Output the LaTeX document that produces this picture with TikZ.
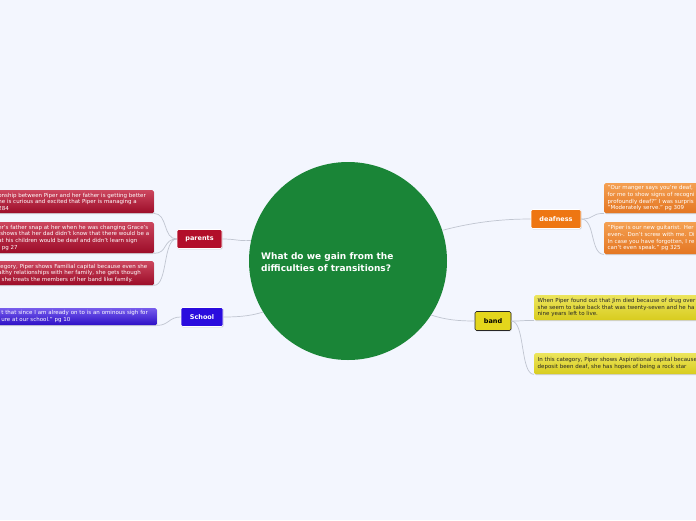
\documentclass[tikz,border=0pt]{standalone}
\usepackage{fontspec}
\setmainfont{DejaVu Sans}
\usetikzlibrary{shadows}

\definecolor{bgpage}{RGB}{243,246,254}
\definecolor{hubgreen}{RGB}{26,133,55}
\definecolor{parred}{RGB}{178,14,42}
\definecolor{parredtop}{RGB}{204,70,94}
\definecolor{parredbot}{RGB}{156,12,40}
\definecolor{schblue}{RGB}{42,12,222}
\definecolor{schbluetop}{RGB}{118,92,236}
\definecolor{schbluebot}{RGB}{44,14,198}
\definecolor{deaforange}{RGB}{238,118,18}
\definecolor{deaftop}{RGB}{244,160,82}
\definecolor{deafbot}{RGB}{228,118,34}
\definecolor{bandyellow}{RGB}{228,214,28}
\definecolor{bandtop}{RGB}{236,229,92}
\definecolor{bandbot}{RGB}{216,204,30}
\definecolor{linkgray}{RGB}{192,197,208}

\tikzset{
  softshadow/.style={drop shadow={shadow xshift=0.6pt, shadow yshift=-0.9pt, opacity=0.3}},
  branch/.style={draw=white, line width=0.6pt, rounded corners=1.5pt, softshadow,
    minimum height=19pt, inner sep=0pt, text=white,
    font=\fontsize{6.5}{8}\selectfont\bfseries},
  leaf/.style={rounded corners=1.5pt, softshadow, align=left, text width=152pt,
    inner xsep=3.5pt, inner ysep=0pt, text=white,
    font=\fontsize{5.5}{6.7}\selectfont},
  link/.style={draw=linkgray, line width=0.7pt},
}

\begin{document}
\begin{tikzpicture}[x=1pt, y=-1pt]
    % 1 unitate = 1 px din imaginea de 696 x 520
    \useasboundingbox (0,0) rectangle (696,520);
    \fill[bgpage] (0,0) rectangle (696,520);
    \clip (0,0) rectangle (696,520);

    % ===== nodul central =====
    \node[circle, fill=hubgreen, minimum size=198pt, inner sep=0pt] (hub) at (348,261) {};
    \node[anchor=west, align=left, text=white, inner sep=0pt,
          font=\fontsize{9}{12}\selectfont\bfseries] (hubtext) at (261,262)
      {What do we gain from the\\difficulties of transitions?};

    % ===== ramuri =====
    \node[branch, fill=parred, minimum width=45pt]   (parents)  at (199.5,239) {parents};
    \node[branch, fill=schblue, minimum width=42pt]  (school)   at (202,317)   {School};
    \node[branch, fill=deaforange, minimum width=50pt] (deafness) at (556,219) {deafness};
    \node[branch, fill=bandyellow, draw=black!85, text=black, minimum width=36pt] (band) at (493,321) {band};

    % ===== frunze stanga (parents, School) =====
    \node[leaf, top color=parredtop, bottom color=parredbot, minimum height=23pt,
          anchor=north east] (par1) at (154,190)
      {onship between Piper and her father is getting better\\
       ne is curious and excited that Piper is managing a\\
       284};
    \node[leaf, top color=parredtop, bottom color=parredbot, minimum height=31pt,
          anchor=north east] (par2) at (154,222)
      {er's father snap at her when he was changing Grace's\\
       \hspace*{2pt}shows that her dad didn't know that there would be a\\
       at his children would be deaf and didn't learn sign\\
       , pg 27};
    \node[leaf, top color=parredtop, bottom color=parredbot, minimum height=24pt,
          anchor=north east] (par3) at (154,261)
      {tegory, Piper shows Familial capital because even she\\
       althy relationships with her family, she gets though\\
       l she treats the members of her band like family.};
    \node[leaf, top color=schbluetop, bottom color=schbluebot, minimum height=17pt,
          anchor=north east] (sch1) at (157,308)
      {t that since I am already on to is an ominous sigh for\\
       ure at our school." pg 10};

    % ===== frunze dreapta (deafness, band) =====
    \node[leaf, top color=deaftop, bottom color=deafbot, minimum height=30pt,
          anchor=north west] (deaf1) at (604,183)
      {"Our manger says you're deaf,\\
       for me to show signs of recogni\\
       profoundly deaf?" I was surpris\\
       "Moderately serve." pg 309};
    \node[leaf, top color=deaftop, bottom color=deafbot, minimum height=32pt,
          anchor=north west] (deaf2) at (604,222)
      {"Piper is our new guitarist. Her\\
       even-. Don't screw with me. Di\\
       In case you have forgotten, I re\\
       can't even speak." pg 325};
    \node[leaf, top color=bandtop, bottom color=bandbot, text=black!85, text width=200pt,
          minimum height=25pt, anchor=north west] (band1) at (534,295)
      {When Piper found out that Jim died because of drug over\\
       she seem to take back that was twenty-seven and he ha\\
       nine years left to live.};
    \node[leaf, top color=bandtop, bottom color=bandbot, text=black!85, text width=200pt,
          minimum height=21pt, anchor=north west] (band2) at (534,353)
      {In this category, Piper shows Aspirational capital because\\
       deposit been deaf, she has hopes of being a rock star};

    % ===== legaturi =====
    \draw[link] (parents.east) .. controls +(14,0) and +(-12,1) .. (hub.168);
    \draw[link] (school.east) .. controls +(20,0) and +(-10,3) .. (hub.211);
    \draw[link] (hub.18) .. controls +(30,-8) and +(-30,0) .. (deafness.west);
    \draw[link] (hub.-33) .. controls +(15,5) and +(-15,0) .. (band.west);

    \foreach \lf in {par1, par2, par3}
      \draw[link] (parents.west) .. controls +(-14,0) and +(14,0) .. (\lf.south east);
    \draw[link] (school.west) .. controls +(-12,0) and +(12,0) .. (sch1.south east);
    \foreach \lf in {deaf1, deaf2}
      \draw[link] (deafness.east) .. controls +(14,0) and +(-14,0) .. (\lf.south west);
    \foreach \lf in {band1, band2}
      \draw[link] (band.east) .. controls +(14,0) and +(-14,0) .. (\lf.south west);

  \end{tikzpicture}
\end{document}
